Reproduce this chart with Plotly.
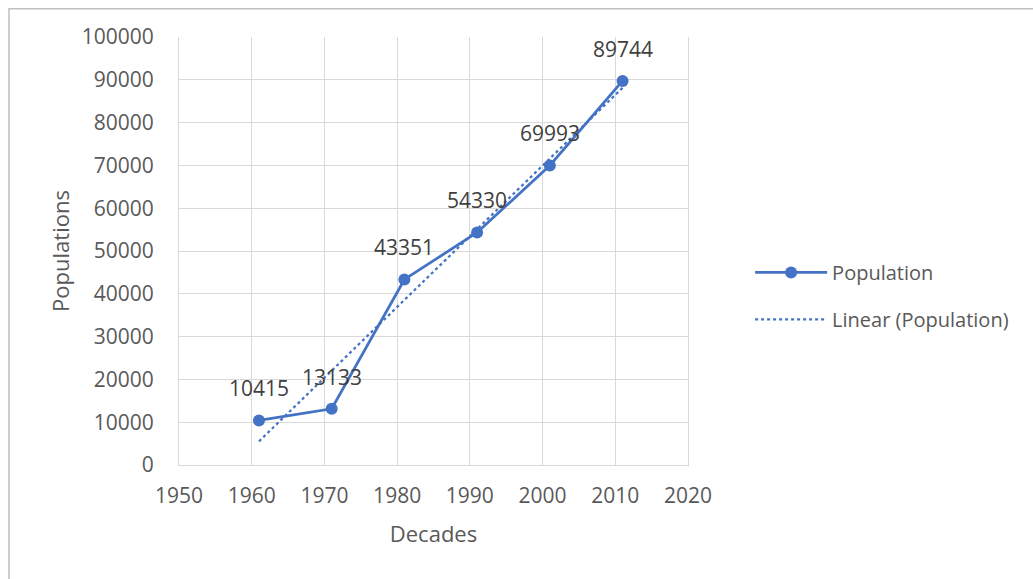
import numpy as np
import plotly.graph_objects as go

# Census decades and population counts
years = [1961, 1971, 1981, 1991, 2001, 2011]
population = [10415, 13133, 43351, 54330, 69993, 89744]

x_ticks = [1950, 1960, 1970, 1980, 1990, 2000, 2010, 2020]
y_ticks = [0, 10000, 20000, 30000, 40000, 50000, 60000, 70000, 80000, 90000, 100000]

# Least-squares linear trend over the observed points
slope, intercept = np.polyfit(years, population, 1)
trend = [slope * yr + intercept for yr in years]

blue = "#4472C4"
font_family = "'Open Sans', Lato, sans-serif"
gray_text = "#595959"

fig = go.Figure()

fig.add_trace(go.Scatter(
    x=years, y=population, name="Population",
    mode="lines+markers", legendgroup="data",
    line=dict(color=blue, width=2.75),
    marker=dict(color=blue, size=12),
))

fig.add_trace(go.Scatter(
    x=years, y=trend, name="Linear (Population)",
    mode="lines", legendgroup="trend",
    line=dict(color=blue, width=2.25, dash="dot"),
))

# Value labels above each point
for yr, val in zip(years, population):
    fig.add_annotation(
        x=yr, y=val, text=str(val), showarrow=False,
        yshift=32, font=dict(size=21, color="#404040", family=font_family),
    )

# Outer chart border (top and left edges fall inside the page)
fig.add_shape(
    type="rect", xref="paper", yref="paper",
    x0=-0.334, x1=1.75, y0=-0.35, y1=1.066,
    line=dict(color="#BFBFBF", width=1.5), layer="below",
)

fig.update_layout(
    width=1033, height=579,
    margin=dict(l=179, r=345, t=37, b=114),
    paper_bgcolor="white", plot_bgcolor="white",
    font=dict(family=font_family, size=20, color=gray_text),
    showlegend=True,
    legend=dict(
        x=1.122, y=0.395, xanchor="left", yanchor="middle",
        font=dict(size=20, color=gray_text),
        tracegroupgap=18, itemwidth=72,
    ),
    xaxis=dict(
        range=[1950, 2020], tickvals=x_ticks, ticks="",
        showgrid=True, gridcolor="#D9D9D9", gridwidth=1,
        zeroline=False, showline=True, linecolor="#D9D9D9",
        tickfont=dict(size=21, color=gray_text), ticklabelstandoff=12,
        title=dict(text="Decades", font=dict(size=22, color=gray_text), standoff=18),
    ),
    yaxis=dict(
        range=[0, 100000], tickvals=y_ticks, ticks="", tickformat="d",
        showgrid=True, gridcolor="#D9D9D9", gridwidth=1,
        zeroline=False, showline=True, linecolor="#D9D9D9", mirror=True,
        tickfont=dict(size=21, color=gray_text), ticklabelstandoff=20,
        title=dict(text="Populations", font=dict(size=22, color=gray_text), standoff=6),
    ),
)

fig.write_html("out.html")
